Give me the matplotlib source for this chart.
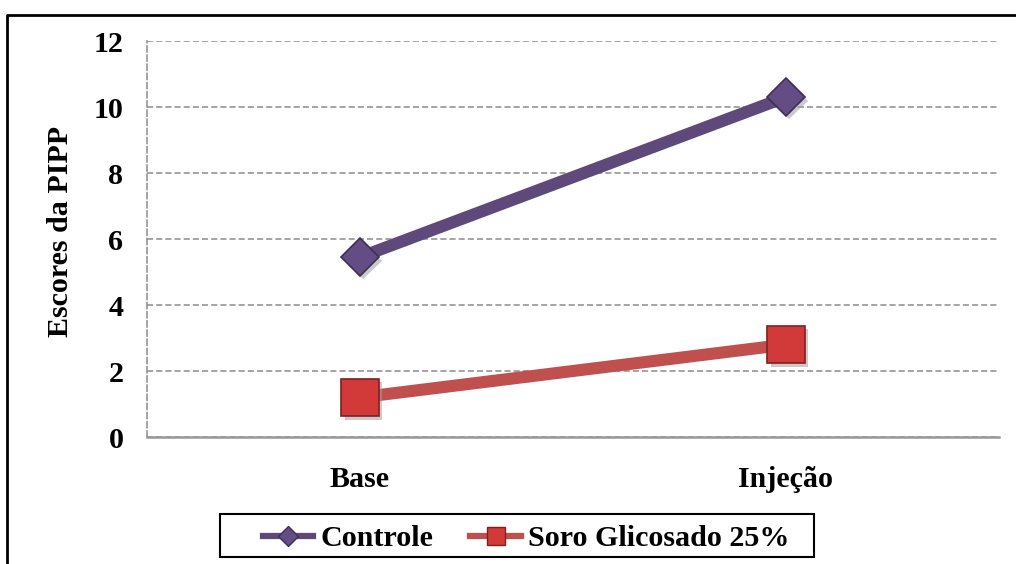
import matplotlib
matplotlib.use("Agg")
import matplotlib.pyplot as plt
from matplotlib.lines import Line2D
from matplotlib.patches import Rectangle
import matplotlib.patheffects as pe

plt.rcParams['font.family'] = ['Liberation Serif', 'DejaVu Serif']
plt.rcParams['font.weight'] = 'bold'

categories = ["Base", "Injeção"]
controle = [5.45, 10.3]
soro = [1.2, 2.8]
series_names = ["Controle", "Soro Glicosado 25%"]
y_ticks = [0, 2, 4, 6, 8, 10, 12]

purple = "#5F497A"
purple_face = "#644C85"
purple_edge = "#3F2F55"
red = "#C0504D"
red_face = "#D23A3A"
red_edge = "#7E2020"
FS = 21.6

W, H = 1016, 564
fig = plt.figure(figsize=(W / 100, H / 100), dpi=100)
ax = fig.add_axes([147 / W, 1 - 437 / H, 852 / W, 396 / H])

x = [0.5, 1.5]
shadow = [pe.SimplePatchShadow(offset=(2.5, -2.5), shadow_rgbFace="#a0a0a0", alpha=0.55), pe.Normal()]

ax.plot(x, controle, color=purple, lw=8.7, solid_capstyle="butt", zorder=3)
ax.plot(x, soro, color=red, lw=8.7, solid_capstyle="butt", zorder=3)
ax.plot(x, controle, ls="none", marker="D", ms=19, mfc=purple_face, mec=purple_edge,
        mew=1.2, zorder=4, path_effects=shadow)
ax.plot(x, soro, ls="none", marker="s", ms=27, mfc=red_face, mec=red_edge,
        mew=1.2, zorder=4, path_effects=shadow)

ax.set_xlim(0, 2)
ax.set_ylim(0, 12)
ax.set_xticks(x)
ax.set_xticklabels(categories)
ax.set_yticks(y_ticks)
ax.tick_params(axis="both", length=0, labelsize=FS)
ax.tick_params(axis="y", pad=17)
ax.tick_params(axis="x", pad=21)
for lab in ax.get_xticklabels() + ax.get_yticklabels():
    lab.set_fontweight("bold")

ax.yaxis.grid(True, color="#8c8c8c", ls=(0, (4, 2)), lw=1.1)
ax.set_axisbelow(True)
for side in ("top", "right"):
    ax.spines[side].set_visible(False)
ax.spines["left"].set_color("#8c8c8c")
ax.spines["left"].set_linestyle((0, (4, 2)))
ax.spines["left"].set_linewidth(1.1)
ax.spines["bottom"].set_color("#999999")
ax.spines["bottom"].set_linewidth(1.8)

ax.set_ylabel("Escores da PIPP", fontsize=FS, fontweight="bold")
ax.yaxis.set_label_coords((74 - 147) / 852, (437 - 231.5) / 396)

# legend: entries placed inside a hand-drawn box
handles = [
    Line2D([], [], color=purple, lw=4.5, marker="D", ms=10.2, mfc=purple_face, mec=purple_edge),
    Line2D([], [], color=red, lw=4.5, marker="s", ms=13, mfc=red_face, mec=red_edge),
]
leg = fig.legend(handles, series_names, loc="center left",
                 bbox_to_anchor=(263 / W, 1 - 539 / H), ncol=2, frameon=False,
                 handlelength=1.68, handletextpad=0.25, columnspacing=1.22,
                 borderpad=0, borderaxespad=0, prop={"weight": "bold", "size": FS})
fig.add_artist(Rectangle((220 / W, 1 - 557 / H), 594 / W, 43 / H, transform=fig.transFigure,
                         fill=False, edgecolor="black", lw=1.5))

# outer frame, top and left edges
fig.add_artist(Line2D([7 / W, 7 / W, 1.0], [0.0, 1 - 15 / H, 1 - 15 / H],
                      transform=fig.transFigure, color="black", lw=2))

fig.savefig("out.png", dpi=100)
